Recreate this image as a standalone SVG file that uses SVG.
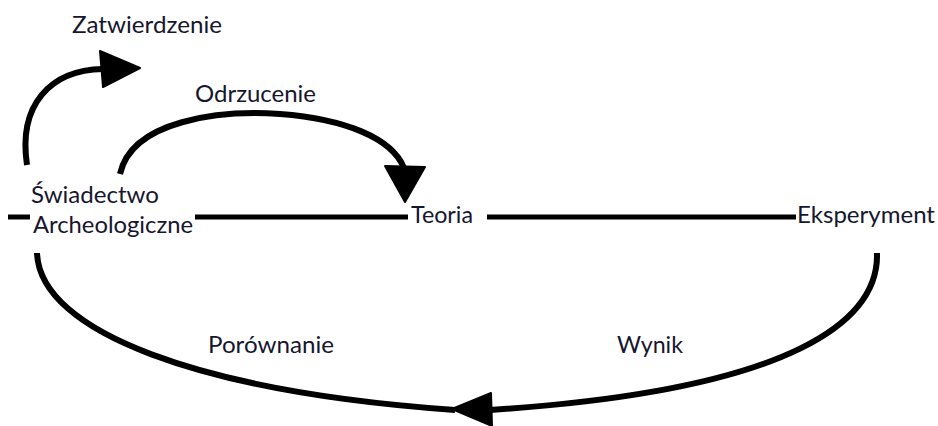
<svg xmlns="http://www.w3.org/2000/svg" width="938" height="426" viewBox="0 0 938 426">
  <style>
    .lbl { font-family: "Lato", "Open Sans", "Liberation Sans", sans-serif; font-size: 23px; fill: #16162e; }
    .ln { fill: none; stroke: #000; stroke-width: 5; }
    .cv { fill: none; stroke: #000; stroke-width: 6; }
    .hd { fill: #000; stroke: #000; stroke-width: 2; stroke-linejoin: round; }
  </style>
  <rect width="938" height="426" fill="#fff"/>

  <g id="connectors">
    <!-- main horizontal axis, broken where the labels sit -->
    <line class="ln" x1="8" y1="217" x2="30" y2="217"/>
    <line class="ln" x1="195" y1="217" x2="408" y2="217"/>
    <line class="ln" x1="487" y1="217" x2="796" y2="217"/>

    <!-- Zatwierdzenie loop -->
    <path class="cv" d="M27,165 C18,105 50,70 103,69"/>
    <polygon class="hd" points="100,51 140,68 103,87"/>

    <!-- Odrzucenie arc into Teoria -->
    <path class="cv" d="M120,174 C132,120 220,110 280,114 C345,119 392,138 404,168"/>
    <polygon class="hd" points="385,166 425,167 405,202"/>

    <!-- Wynik: from Eksperyment down to the bottom arrowhead -->
    <path class="cv" d="M877,253 C879,318 800,390 490,410"/>
    <!-- Porownanie: from Archeologiczne down to the bottom arrowhead -->
    <path class="cv" d="M37,253 C40,332 200,392 455,410"/>
    <polygon class="hd" points="452,409 491,393 492,426"/>
  </g>

  <g id="node-swiadectwo">
    <text class="lbl" x="31" y="203" textLength="128" lengthAdjust="spacingAndGlyphs">Świadectwo</text>
    <text class="lbl" x="33" y="233" textLength="160" lengthAdjust="spacingAndGlyphs">Archeologiczne</text>
  </g>
  <g id="node-teoria">
    <text class="lbl" x="411" y="223" textLength="62" lengthAdjust="spacingAndGlyphs">Teoria</text>
  </g>
  <g id="node-eksperyment">
    <text class="lbl" x="797" y="223" textLength="138" lengthAdjust="spacingAndGlyphs">Eksperyment</text>
  </g>

  <g id="edge-labels">
    <text class="lbl" x="72" y="33" textLength="150" lengthAdjust="spacingAndGlyphs">Zatwierdzenie</text>
    <text class="lbl" x="195" y="102" textLength="121" lengthAdjust="spacingAndGlyphs">Odrzucenie</text>
    <text class="lbl" x="208" y="353" textLength="126" lengthAdjust="spacingAndGlyphs">Porównanie</text>
    <text class="lbl" x="617" y="353" textLength="66" lengthAdjust="spacingAndGlyphs">Wynik</text>
  </g>
</svg>
